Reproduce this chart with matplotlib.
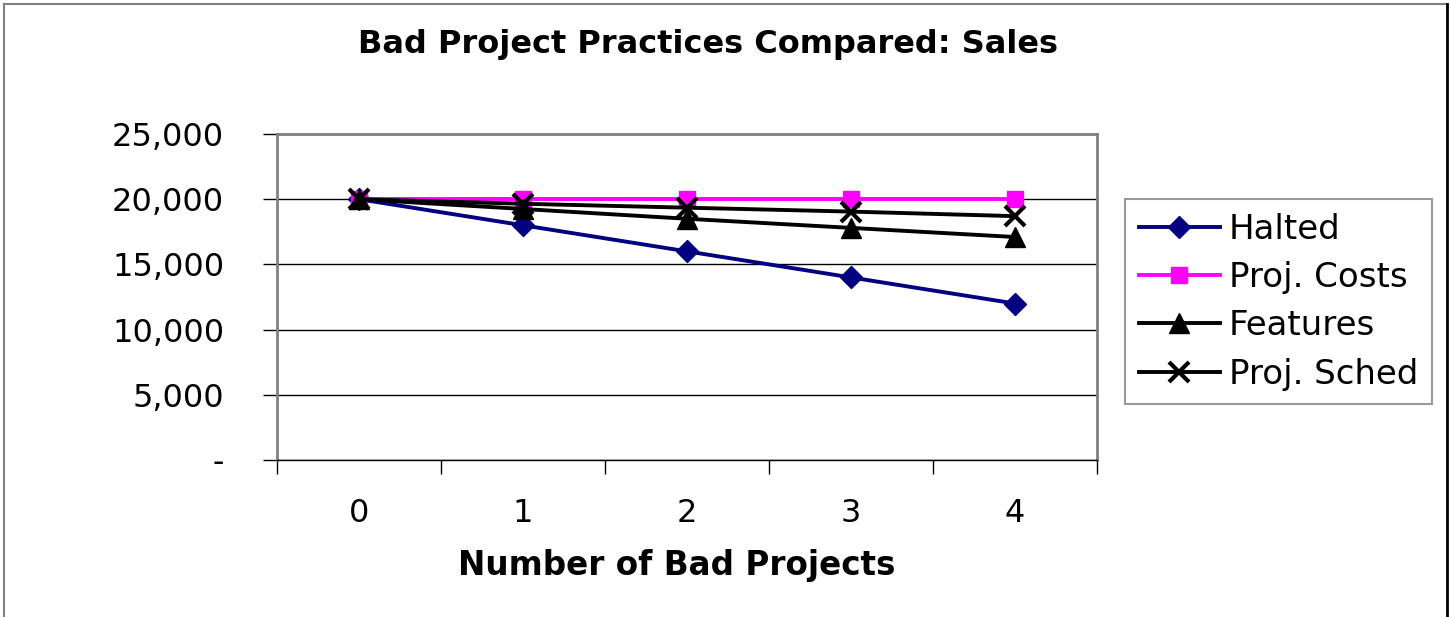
import matplotlib
matplotlib.use("Agg")
import matplotlib.pyplot as plt
from matplotlib.lines import Line2D
from matplotlib.ticker import FixedLocator, FuncFormatter

categories = ["0", "1", "2", "3", "4"]
halted = [20000, 18000, 16000, 14000, 12000]
proj_costs = [20000, 20000, 20000, 20000, 20000]
features = [20000, 19250, 18500, 17800, 17100]
proj_sched = [20000, 19650, 19350, 19050, 18700]
series_names = ["Halted", "Proj. Costs", "Features", "Proj. Sched"]
y_ticks = [0, 5000, 10000, 15000, 20000, 25000]

W, H = 1450, 617
fig = plt.figure(figsize=(W / 100, H / 100), dpi=100)
fig.patch.set_facecolor("white")
plt.rcParams['font.family'] = ['DejaVu Sans']

def fx(px): return px / W
def fy(py): return 1 - py / H

# chart border
fig.add_artist(Line2D([fx(4), fx(4)], [fy(4), fy(H + 5)], color="#808080", lw=1.5, transform=fig.transFigure))
fig.add_artist(Line2D([fx(4), fx(1447)], [fy(4), fy(4)], color="#808080", lw=1.5, transform=fig.transFigure))
fig.add_artist(Line2D([fx(1447), fx(1447)], [fy(4), fy(H + 5)], color="black", lw=2, transform=fig.transFigure))

left, right, top, bottom = 277, 1097, 134, 460
ax = fig.add_axes([fx(left), fy(bottom), fx(right - left), (bottom - top) / H])

x = list(range(len(categories)))
lw = 2.8
ax.plot(x, halted, color="#000080", lw=lw, marker="D", ms=11, label=series_names[0], zorder=3)
ax.plot(x, proj_costs, color="#FF00FF", lw=lw, marker="s", ms=12, label=series_names[1], zorder=4)
ax.plot(x, features, color="black", lw=lw, marker="^", ms=14, label=series_names[2], zorder=5)
ax.plot(x, proj_sched, color="black", lw=lw, marker="x", ms=14, mew=3, label=series_names[3], zorder=6)

ax.set_xlim(-0.5, len(categories) - 0.5)
ax.set_ylim(0, 25000)
ax.set_yticks(y_ticks)
ax.yaxis.set_major_formatter(FuncFormatter(lambda v, p: "-" if v == 0 else f"{int(v):,}"))
ax.grid(axis="y", color="black", lw=1.0)
ax.set_axisbelow(True)

ax.set_xticks(x)
ax.set_xticklabels(categories)
ax.xaxis.set_minor_locator(FixedLocator([i - 0.5 for i in range(len(categories) + 1)]))
ax.tick_params(axis="x", which="major", length=0, pad=27, labelsize=23)
ax.tick_params(axis="x", which="minor", length=10, width=1, color="black")
ax.tick_params(axis="y", which="major", length=10, width=1, pad=28, labelsize=23, color="black")

for s in ["top", "right", "left"]:
    ax.spines[s].set_color("#808080")
    ax.spines[s].set_linewidth(2)
ax.spines["bottom"].set_color("black")
ax.spines["bottom"].set_linewidth(1)

ax.set_xlabel("Number of Bad Projects", fontsize=23.5, fontweight="bold")
ax.xaxis.set_label_coords((677 - left) / (right - left), -(565 - bottom) / (bottom - top), transform=ax.transAxes)
ax.xaxis.label.set_va("center")
fig.text(fx(708), fy(44), "Bad Project Practices Compared: Sales", ha="center", va="center",
         fontsize=23, fontweight="bold")

leg = ax.legend(loc="upper left", bbox_to_anchor=(fx(1125), fy(199)), bbox_transform=fig.transFigure,
                fontsize=24.5, frameon=True, fancybox=False, edgecolor="#808080", borderpad=0.4,
                handlelength=2.4, handletextpad=0.25, labelspacing=0.45, borderaxespad=0)
leg.get_frame().set_linewidth(1.5)

fig.savefig("out.png", dpi=100)
